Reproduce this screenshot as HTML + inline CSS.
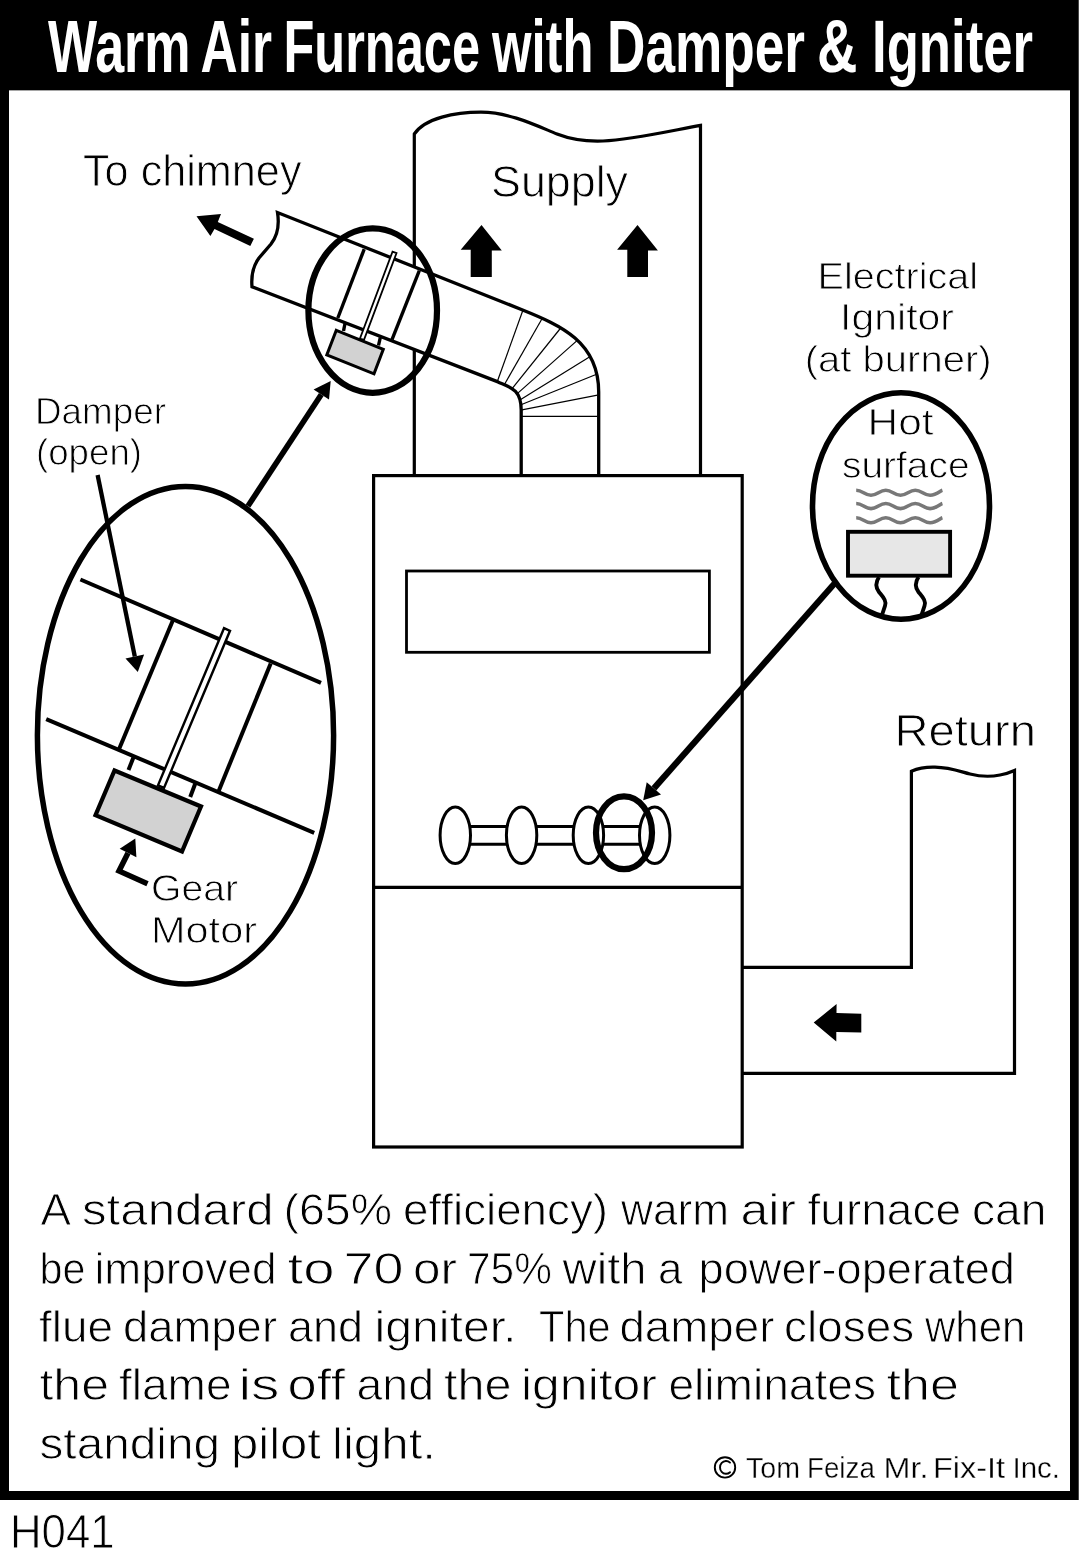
<!DOCTYPE html>
<html><head><meta charset="utf-8">
<style>
html,body{margin:0;padding:0;background:#fff;}
body{width:1079px;height:1548px;overflow:hidden;}
svg{display:block;filter:grayscale(1);}
text{font-family:"Liberation Sans",sans-serif;}
</style></head>
<body>
<svg width="1079" height="1548" viewBox="0 0 1079 1548">
<rect x="0" y="0" width="1079" height="1548" fill="#fff"/>
<rect x="0" y="0" width="1078" height="90.35" fill="#000"/>
<rect x="0" y="0" width="9" height="1500" fill="#000"/>
<rect x="1070" y="0" width="8" height="1500" fill="#000"/>
<rect x="1078" y="0" width="1" height="1500" fill="#474747"/>
<rect x="0" y="1491" width="1078" height="9" fill="#000"/>

<g font-family="Liberation Sans, sans-serif"><text x="48.0" y="72" font-size="75" font-weight="bold" fill="#fff" textLength="142.5" lengthAdjust="spacingAndGlyphs">Warm</text>
<text x="200.5" y="72" font-size="75" font-weight="bold" fill="#fff" textLength="71.5" lengthAdjust="spacingAndGlyphs">Air</text>
<text x="283.5" y="72" font-size="75" font-weight="bold" fill="#fff" textLength="196.5" lengthAdjust="spacingAndGlyphs">Furnace</text>
<text x="492.0" y="72" font-size="75" font-weight="bold" fill="#fff" textLength="101.5" lengthAdjust="spacingAndGlyphs">with</text>
<text x="607.0" y="72" font-size="75" font-weight="bold" fill="#fff" textLength="198.0" lengthAdjust="spacingAndGlyphs">Damper</text>
<text x="817.0" y="72" font-size="75" font-weight="bold" fill="#fff" textLength="40.4" lengthAdjust="spacingAndGlyphs">&amp;</text>
<text x="872.0" y="72" font-size="75" font-weight="bold" fill="#fff" textLength="161.0" lengthAdjust="spacingAndGlyphs">Igniter</text></g>


<g fill="none" stroke="#000" stroke-width="3.2">
<path d="M414.3,476 L414.3,134 C425,118 455,112.2 481,112.2 C510,112.5 535,125 557,134 C575,141 590,141.5 603,141 C630,140 665,132 700.5,125.4 L700.5,476"/>
<rect x="373.6" y="475.6" width="368.6" height="671.4"/>
<line x1="373.6" y1="887.3" x2="742.2" y2="887.3"/>
<rect x="406.5" y="571" width="302.9" height="81.3" stroke-width="2.8"/>
<path d="M742.2,967.4 L911.4,967.4 L911.4,771.2 C920,767.5 928,767 935,767.2 C950,767.5 960,771.5 970,774 C980,776.5 990,777 1000,775 C1006,774 1010,772.5 1014.5,770.5 L1014.5,1073.4 L742.2,1073.4"/>
</g>
<path d="M277.5,212.5 L522,309.7 C561,325.4 598.7,342 598.7,392 L598.7,473.5 L521.2,473.5 L521.2,410 C521.2,389.5 510.5,387.3 498,381.9 L252,286.8 C251,275 253,266 259,258 L271,244 C279,234 279,222 277.5,212.5 Z" fill="#fff" stroke="none"/>
<path d="M598.7,476 L598.7,392 C598.7,342 561,325.4 522,309.7 L277.5,212.5 C279,222 279,234 271,244 L259,258 C253,266 251,275 252,286.8 L498,381.9 C510.5,387.3 521.2,389.5 521.2,410 L521.2,476" fill="none" stroke="#000" stroke-width="3.3" stroke-linejoin="miter"/>
<g stroke="#000" stroke-width="1.2">
<line x1="497.5" y1="381" x2="522.8" y2="310.5"/>
<line x1="504.7" y1="384" x2="542" y2="318.7"/>
<line x1="511.9" y1="388.8" x2="560.7" y2="328"/>
<line x1="517.3" y1="393.6" x2="577.3" y2="340.4"/>
<line x1="520.7" y1="399.4" x2="590.2" y2="356.5"/>
<line x1="521.6" y1="404.5" x2="596.6" y2="374.3"/>
<line x1="521.9" y1="409.9" x2="597.5" y2="395.1"/>
<line x1="521.9" y1="416.3" x2="597.5" y2="416.3"/>
</g>
<ellipse cx="372.7" cy="310.6" rx="64.3" ry="82.2" fill="none" stroke="#000" stroke-width="6.2"/>
<g stroke="#000" stroke-width="3.4" fill="none">
<line x1="364.2" y1="249.2" x2="337.8" y2="318"/>
<line x1="419.3" y1="270.7" x2="392" y2="339.6"/>
<line x1="345" y1="323.5" x2="343.5" y2="331"/>
<line x1="380.3" y1="337.5" x2="378.5" y2="345.5"/>
</g>
<polygon points="392.5,251.7 360.0,338.5 364.0,339.9 396.5,253.1" fill="#fff" stroke="#000" stroke-width="1.8"/>
<polygon points="336.3,330.3 383.3,349.3 374,373.8 326.8,355" fill="#d1d2d4" stroke="#000" stroke-width="3"/>
<ellipse cx="185.5" cy="735.2" rx="148.1" ry="248.8" fill="none" stroke="#000" stroke-width="5.5"/>
<g stroke="#000" stroke-width="4" fill="none">
<line x1="80.4" y1="579.5" x2="321" y2="682.9"/>
<line x1="46.2" y1="719.1" x2="314.2" y2="832.8"/>
<line x1="172.8" y1="620.6" x2="119.1" y2="748.9"/>
<line x1="270.7" y1="663.4" x2="218.4" y2="791.7"/>
<line x1="133.8" y1="756.5" x2="128.5" y2="770"/>
<line x1="195.5" y1="783" x2="190.2" y2="797"/>
</g>
<polygon points="224.0,628.2 158.0,785.3 164.0,787.9 230.0,630.8" fill="#fff" stroke="#000" stroke-width="2.4"/>
<polygon points="114.5,770.5 201,806.5 182,851.5 95.5,815.2" fill="#d1d2d4" stroke="#000" stroke-width="4.2"/>
<ellipse cx="901" cy="506" rx="88.5" ry="113.3" fill="none" stroke="#000" stroke-width="5.6"/>
<g fill="none" stroke="#77787b" stroke-width="3.6">
<path d="M856.2,490.2 C862.4,490.2 864.8,495.3 871.0,495.3 C877.2,495.3 879.6,490.2 885.8,490.2 C892.0,490.2 894.3,495.3 900.5,495.3 C906.7,495.3 909.1,490.2 915.3,490.2 C921.5,490.2 923.9,495.3 930.1,495.3 C936.3,495.3 940.4,490.8 942.4,490.2"/>
<path d="M856.2,503.5 C862.4,503.5 864.8,508.6 871.0,508.6 C877.2,508.6 879.6,503.5 885.8,503.5 C892.0,503.5 894.3,508.6 900.5,508.6 C906.7,508.6 909.1,503.5 915.3,503.5 C921.5,503.5 923.9,508.6 930.1,508.6 C936.3,508.6 940.4,504.1 942.4,503.5"/>
<path d="M856.2,517.7 C862.4,517.7 864.8,522.8 871.0,522.8 C877.2,522.8 879.6,517.7 885.8,517.7 C892.0,517.7 894.3,522.8 900.5,522.8 C906.7,522.8 909.1,517.7 915.3,517.7 C921.5,517.7 923.9,522.8 930.1,522.8 C936.3,522.8 940.4,518.3 942.4,517.7"/>
</g>
<rect x="848" y="531.8" width="102.1" height="43.9" fill="#e6e7e8" stroke="#000" stroke-width="3.9"/>
<g fill="none" stroke="#000" stroke-width="3.9">
<path d="M879,577 C875,583 876,588 879,592 C883,597 887,601 885,606 C884,609 883,612 882,615"/>
<path d="M918.5,577 C914.5,583 915.5,588 918.5,592 C922.5,597 926.5,601 924.5,606 C923.5,609 922.5,612 921.5,615"/>
</g>
<g fill="none" stroke="#000" stroke-width="3">
<line x1="470" y1="826.5" x2="507" y2="826.5"/><line x1="470" y1="844.3" x2="507" y2="844.3"/>
<line x1="536" y1="826.5" x2="574" y2="826.5"/><line x1="536" y1="844.3" x2="574" y2="844.3"/>
<line x1="603" y1="826.5" x2="640" y2="826.5"/><line x1="603" y1="844.3" x2="640" y2="844.3"/>
<ellipse cx="455.3" cy="835.2" rx="15.2" ry="28.3" fill="#fff"/>
<ellipse cx="521.6" cy="835.2" rx="15.2" ry="28.3" fill="#fff"/>
<ellipse cx="588.4" cy="835.2" rx="15.2" ry="28.3"/>
<ellipse cx="654.7" cy="835.2" rx="15.2" ry="28.3"/>
</g>
<ellipse cx="624" cy="832.8" rx="28" ry="36.4" fill="none" stroke="#000" stroke-width="6.2"/>
<g fill="#000">
<polygon points="196.5,216.2 221,214 217.8,222 253.9,238.7 250.3,245.9 214.5,229.1 210.4,236.1"/>
<line x1="248" y1="506" x2="321.3" y2="394.5" stroke="#000" stroke-width="5.6"/><polygon points="330.7,381.1 313.6,389.5 329.0,399.5"/>
<line x1="834.5" y1="583.5" x2="653.9" y2="788.4" stroke="#000" stroke-width="6.2"/><polygon points="643.2,800.3 646.7,782.2 661.0,794.5"/>
<polygon points="481.5,224.9 501.8,250.6 491.8,250.6 491.8,276.9 470.7,276.9 470.7,249.7 460.7,249.7"/>
<polygon points="637.5,224.9 657.9,250.6 648,250.6 648,276.9 627.3,276.9 627.3,249.7 617.1,249.7"/>
<polygon points="813.7,1022.6 836.6,1004 836.5,1013.1 861.3,1013.7 861.3,1032.6 836.3,1032 836.3,1041.4"/>
<line x1="97.6" y1="475" x2="134.8" y2="656.5" stroke="#000" stroke-width="4.3"/><polygon points="137.8,671.9 125.5,658.4 144.1,654.5"/>
</g>
<path d="M147.5,883.8 L119,871 L128,853" fill="none" stroke="#000" stroke-width="5.5" stroke-linejoin="miter"/>
<polygon points="135.3,838.6 119.7,848.8 136.4,857.3" fill="#000"/>
<g fill="#000" stroke="#fff" stroke-width="0.9" font-family="Liberation Sans, sans-serif">
<text x="83.0" y="186.3" font-size="44.5" textLength="218.5" lengthAdjust="spacingAndGlyphs">To chimney</text>
<text x="491.0" y="197.3" font-size="44.5" textLength="137.0" lengthAdjust="spacingAndGlyphs">Supply</text>
<text x="817.6" y="288.6" font-size="37.5" textLength="160.4" lengthAdjust="spacingAndGlyphs">Electrical</text>
<text x="840.0" y="330.4" font-size="37.5" textLength="114.0" lengthAdjust="spacingAndGlyphs">Ignitor</text>
<text x="804.8" y="371.8" font-size="37.5" textLength="186.8" lengthAdjust="spacingAndGlyphs">(at burner)</text>
<text x="867.5" y="435" font-size="37.5" textLength="66.0" lengthAdjust="spacingAndGlyphs">Hot</text>
<text x="842.0" y="477.7" font-size="37.5" textLength="127.6" lengthAdjust="spacingAndGlyphs">surface</text>
<text x="35.0" y="423.6" font-size="37.5" textLength="131.0" lengthAdjust="spacingAndGlyphs">Damper</text>
<text x="36.0" y="465.1" font-size="37.5" textLength="106.0" lengthAdjust="spacingAndGlyphs">(open)</text>
<text x="894.5" y="746" font-size="44.5" textLength="141.5" lengthAdjust="spacingAndGlyphs">Return</text>
<text x="151.0" y="901" font-size="37.5" textLength="87.0" lengthAdjust="spacingAndGlyphs">Gear</text>
<text x="151.0" y="942.7" font-size="37.5" textLength="106.0" lengthAdjust="spacingAndGlyphs">Motor</text>
<text x="40.4" y="1225" font-size="44" textLength="30.6" lengthAdjust="spacingAndGlyphs">A</text>
<text x="82.0" y="1225" font-size="44" textLength="191.5" lengthAdjust="spacingAndGlyphs">standard</text>
<text x="283.5" y="1225" font-size="44" textLength="108.5" lengthAdjust="spacingAndGlyphs">(65%</text>
<text x="403.0" y="1225" font-size="44" textLength="205.0" lengthAdjust="spacingAndGlyphs">efficiency)</text>
<text x="621.1" y="1225" font-size="44" textLength="107.9" lengthAdjust="spacingAndGlyphs">warm</text>
<text x="740.4" y="1225" font-size="44" textLength="55.6" lengthAdjust="spacingAndGlyphs">air</text>
<text x="807.5" y="1225" font-size="44" textLength="153.5" lengthAdjust="spacingAndGlyphs">furnace</text>
<text x="972.0" y="1225" font-size="44" textLength="74.5" lengthAdjust="spacingAndGlyphs">can</text>
<text x="39.5" y="1283.6" font-size="44" textLength="46.0" lengthAdjust="spacingAndGlyphs">be</text>
<text x="94.5" y="1283.6" font-size="44" textLength="182.0" lengthAdjust="spacingAndGlyphs">improved</text>
<text x="287.5" y="1283.6" font-size="44" textLength="47.0" lengthAdjust="spacingAndGlyphs">to</text>
<text x="343.5" y="1283.6" font-size="44" textLength="60.0" lengthAdjust="spacingAndGlyphs">70</text>
<text x="413.0" y="1283.6" font-size="44" textLength="44.0" lengthAdjust="spacingAndGlyphs">or</text>
<text x="467.0" y="1283.6" font-size="44" textLength="85.0" lengthAdjust="spacingAndGlyphs">75%</text>
<text x="562.6" y="1283.6" font-size="44" textLength="84.0" lengthAdjust="spacingAndGlyphs">with</text>
<text x="658.0" y="1283.6" font-size="44" textLength="24.4" lengthAdjust="spacingAndGlyphs">a</text>
<text x="698.5" y="1283.6" font-size="44" textLength="316.5" lengthAdjust="spacingAndGlyphs">power-operated</text>
<text x="39.0" y="1342" font-size="44" textLength="74.0" lengthAdjust="spacingAndGlyphs">flue</text>
<text x="123.0" y="1342" font-size="44" textLength="154.0" lengthAdjust="spacingAndGlyphs">damper</text>
<text x="288.0" y="1342" font-size="44" textLength="75.0" lengthAdjust="spacingAndGlyphs">and</text>
<text x="374.5" y="1342" font-size="44" textLength="142.0" lengthAdjust="spacingAndGlyphs">igniter.</text>
<text x="539.0" y="1342" font-size="44" textLength="71.6" lengthAdjust="spacingAndGlyphs">The</text>
<text x="619.4" y="1342" font-size="44" textLength="155.0" lengthAdjust="spacingAndGlyphs">damper</text>
<text x="784.1" y="1342" font-size="44" textLength="130.0" lengthAdjust="spacingAndGlyphs">closes</text>
<text x="925.0" y="1342" font-size="44" textLength="100.5" lengthAdjust="spacingAndGlyphs">when</text>
<text x="39.4" y="1400" font-size="44" textLength="69.6" lengthAdjust="spacingAndGlyphs">the</text>
<text x="119.0" y="1400" font-size="44" textLength="112.5" lengthAdjust="spacingAndGlyphs">flame</text>
<text x="238.5" y="1400" font-size="44" textLength="41.0" lengthAdjust="spacingAndGlyphs">is</text>
<text x="287.5" y="1400" font-size="44" textLength="57.5" lengthAdjust="spacingAndGlyphs">off</text>
<text x="356.5" y="1400" font-size="44" textLength="77.5" lengthAdjust="spacingAndGlyphs">and</text>
<text x="444.0" y="1400" font-size="44" textLength="67.5" lengthAdjust="spacingAndGlyphs">the</text>
<text x="521.0" y="1400" font-size="44" textLength="136.0" lengthAdjust="spacingAndGlyphs">ignitor</text>
<text x="668.4" y="1400" font-size="44" textLength="207.6" lengthAdjust="spacingAndGlyphs">eliminates</text>
<text x="886.6" y="1400" font-size="44" textLength="72.4" lengthAdjust="spacingAndGlyphs">the</text>
<text x="39.5" y="1458.5" font-size="44" textLength="180.5" lengthAdjust="spacingAndGlyphs">standing</text>
<text x="231.0" y="1458.5" font-size="44" textLength="90.0" lengthAdjust="spacingAndGlyphs">pilot</text>
<text x="332.0" y="1458.5" font-size="44" textLength="104.0" lengthAdjust="spacingAndGlyphs">light.</text>
<text x="746.0" y="1477.5" font-size="30" stroke-width="0.35" textLength="54.0" lengthAdjust="spacingAndGlyphs">Tom</text>
<text x="807.0" y="1477.5" font-size="30" stroke-width="0.35" textLength="67.8" lengthAdjust="spacingAndGlyphs">Feiza</text>
<text x="883.5" y="1477.5" font-size="30" stroke-width="0.35" textLength="45.0" lengthAdjust="spacingAndGlyphs">Mr.</text>
<text x="933.0" y="1477.5" font-size="30" stroke-width="0.35" textLength="72.0" lengthAdjust="spacingAndGlyphs">Fix-It</text>
<text x="1012.5" y="1477.5" font-size="30" stroke-width="0.35" textLength="47.5" lengthAdjust="spacingAndGlyphs">Inc.</text>
<text x="10.0" y="1547.6" font-size="48" textLength="104.6" lengthAdjust="spacingAndGlyphs">H041</text>
</g>
<circle cx="725" cy="1467.4" r="10.2" fill="none" stroke="#000" stroke-width="1.9"/>
<path d="M730,1462.6 A6,6.4 0 1 0 730,1472.2" fill="none" stroke="#000" stroke-width="1.9" stroke-linecap="round"/>
</svg>
</body></html>
